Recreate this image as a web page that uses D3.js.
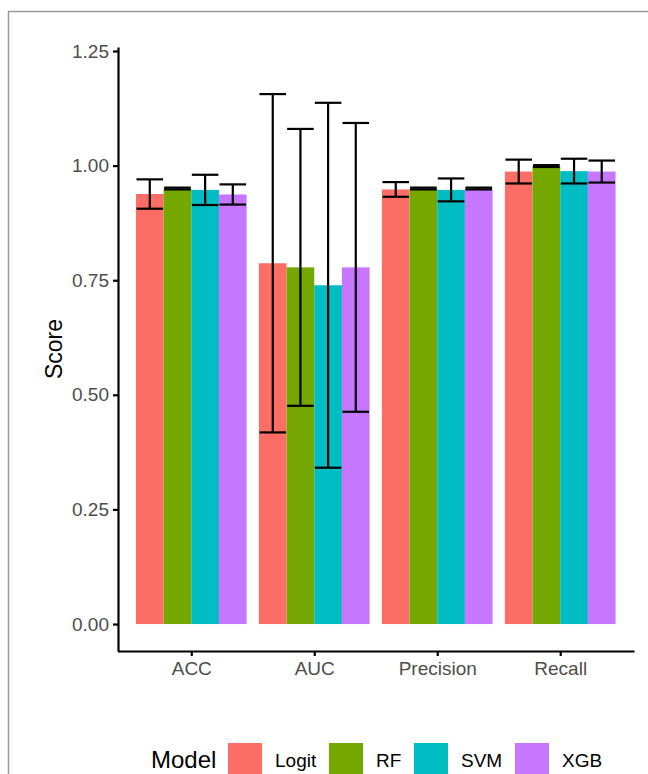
<!DOCTYPE html>
<html>
<head>
<meta charset="utf-8">
<script src="https://cdn.jsdelivr.net/npm/d3@7"></script>
<style>
  html, body { margin: 0; padding: 0; background: #fff; }
  svg { display: block; font-family: 'Liberation Sans', Arial, sans-serif; }
</style>
</head>
<body>
<svg id="chart" width="648" height="774"></svg>
<script>

/* ── Data ── */
const metrics = ['ACC', 'AUC', 'Precision', 'Recall'];
const models  = ['Logit', 'RF', 'SVM', 'XGB'];
const colors  = ['#FC6D65', '#74A700', '#00BCC3', '#C676FF'];

/* mean score per metric, one array per model */
const meanLogit = [0.938, 0.787, 0.948, 0.987];
const meanRF    = [0.950, 0.778, 0.950, 0.999];
const meanSVM   = [0.947, 0.739, 0.947, 0.988];
const meanXGB   = [0.937, 0.778, 0.950, 0.987];

/* half-width of the error bar */
const errLogit = [0.032, 0.369, 0.016, 0.026];
const errRF    = [0.002, 0.302, 0.002, 0.002];
const errSVM   = [0.033, 0.398, 0.025, 0.027];
const errXGB   = [0.022, 0.315, 0.002, 0.024];

const yTicks = [0, 0.25, 0.5, 0.75, 1, 1.25];

const means = [meanLogit, meanRF, meanSVM, meanXGB];
const errs  = [errLogit, errRF, errSVM, errXGB];

const rows = [];
metrics.forEach((m, i) => {
  models.forEach((mod, j) => {
    rows.push({ metric: m, model: mod, value: means[j][i], err: errs[j][i] });
  });
});

/* ── Layout ── */
const svg = d3.select('#chart');
const tickColor = '#4d4d4d';
const font = 'Liberation Sans, Arial, sans-serif';

/* screenshot frame */
svg.append('line').attr('x1', 8).attr('x2', 648).attr('y1', 11.5).attr('y2', 11.5)
  .attr('stroke', '#9a9a9a').attr('stroke-width', 1.5);
svg.append('line').attr('x1', 8.5).attr('x2', 8.5).attr('y1', 11).attr('y2', 774)
  .attr('stroke', '#9a9a9a').attr('stroke-width', 1.5);

/* ── Scales ── */
const xScale = d3.scalePoint()
  .domain(metrics)
  .range([117.5, 634])
  .padding(0.6);

const step = xScale.step();

const xInner = d3.scaleBand()
  .domain(models)
  .range([-step * 0.45, step * 0.45]);

const yScale = d3.scaleLinear()
  .domain([-0.0588, 1.2587])
  .range([651, 47]);

const colorScale = d3.scaleOrdinal().domain(models).range(colors);

/* ── Bars ── */
svg.append('g').selectAll('rect.bar')
  .data(rows)
  .join('rect')
  .attr('class', 'bar')
  .attr('x', d => xScale(d.metric) + xInner(d.model))
  .attr('width', xInner.bandwidth())
  .attr('y', d => yScale(d.value))
  .attr('height', d => yScale(0) - yScale(d.value))
  .attr('fill', d => colorScale(d.model));

/* ── Error bars ── */
const capW = xInner.bandwidth() * 0.96;
const eb = svg.append('g').selectAll('g.eb')
  .data(rows)
  .join('g')
  .attr('class', 'eb')
  .attr('transform', d => `translate(${xScale(d.metric) + xInner(d.model) + xInner.bandwidth() / 2},0)`)
  .attr('stroke', '#000')
  .attr('stroke-width', 2.2);

eb.append('line')
  .attr('x1', 0).attr('x2', 0)
  .attr('y1', d => yScale(d.value + d.err))
  .attr('y2', d => yScale(d.value - d.err));
eb.append('line')
  .attr('x1', -capW / 2).attr('x2', capW / 2)
  .attr('y1', d => yScale(d.value + d.err))
  .attr('y2', d => yScale(d.value + d.err));
eb.append('line')
  .attr('x1', -capW / 2).attr('x2', capW / 2)
  .attr('y1', d => yScale(d.value - d.err))
  .attr('y2', d => yScale(d.value - d.err));

/* ── Y axis ── */
const yAxis = svg.append('g')
  .attr('transform', 'translate(118,0)')
  .call(d3.axisLeft(yScale).tickValues(yTicks).tickFormat(d3.format('.2f')).tickSize(5).tickSizeOuter(0).tickPadding(4));
yAxis.select('.domain').attr('stroke', '#000').attr('stroke-width', 2.2);
yAxis.selectAll('.tick line').attr('stroke', '#000').attr('stroke-width', 2.2);
yAxis.selectAll('.tick text')
  .attr('fill', tickColor).attr('font-size', '19px')
  .attr('font-family', font);

/* ── X axis ── */
const xAxis = svg.append('g')
  .attr('transform', 'translate(0,651)')
  .call(d3.axisBottom(xScale).tickSize(5).tickSizeOuter(0).tickPadding(6));
xAxis.select('.domain').attr('stroke', '#000').attr('stroke-width', 2.2);
xAxis.selectAll('.tick line').attr('stroke', '#000').attr('stroke-width', 2.2);
xAxis.selectAll('.tick text')
  .attr('fill', tickColor).attr('font-size', '19px')
  .attr('font-family', font);

/* ── Axis title ── */
svg.append('text')
  .attr('transform', `translate(62,${yScale(0.6)}) rotate(-90)`)
  .attr('text-anchor', 'middle')
  .attr('font-size', '23px')
  .attr('fill', '#000')
  .text('Score');

/* ── Legend ── */
const legendX = [228, 329, 414, 515];
const legend = svg.append('g');
legend.append('text')
  .attr('x', 151).attr('y', 768)
  .attr('font-size', '24px').attr('fill', '#000')
  .text('Model');

const items = legend.selectAll('g.item')
  .data(models)
  .join('g')
  .attr('class', 'item')
  .attr('transform', (d, i) => `translate(${legendX[i]},743)`);

items.append('rect')
  .attr('width', 34).attr('height', 34)
  .attr('fill', d => colorScale(d));
items.append('text')
  .attr('x', 47).attr('y', 24)
  .attr('font-size', '19px').attr('fill', '#000')
  .text(d => d);

</script>
</body>
</html>
